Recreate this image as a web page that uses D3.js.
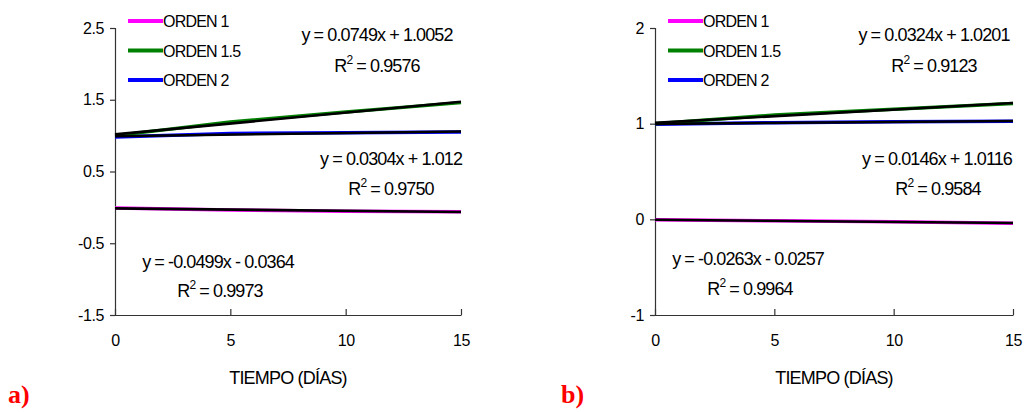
<!DOCTYPE html>
<html><head><meta charset="utf-8">
<script src="https://cdn.jsdelivr.net/npm/d3@7"></script>
<style>body{margin:0;background:#fff}svg{display:block}</style>
</head><body>
<svg id="c" width="1027" height="412"></svg>
<script>
// ---- data ----
const days = [0, 5, 10, 15];
const seriesNames = ["ORDEN 1", "ORDEN 1.5", "ORDEN 2"];
const seriesColors = ["#ff00ff", "#008000", "#0000ff"];
// panel a
const aOrden1 = [-0.01, -0.035, -0.055, -0.06];
const aOrden15 = [1.0, 1.19, 1.33, 1.46];
const aOrden2 = [0.98, 1.03, 1.04, 1.05];
const aYTicks = [-1.5, -0.5, 0.5, 1.5, 2.5];
const aEq = ["y = -0.0499x - 0.0364", "y = 0.0749x + 1.0052", "y = 0.0304x + 1.012"];
const aR2 = ["0.9973", "0.9576", "0.9750"];
// panel b
const bOrden1 = [-0.005, -0.015, -0.025, -0.04];
const bOrden15 = [1.0, 1.09, 1.15, 1.21];
const bOrden2 = [0.995, 1.01, 1.02, 1.025];
const bYTicks = [-1, 0, 1, 2];
const bEq = ["y = -0.0263x - 0.0257", "y = 0.0324x + 1.0201", "y = 0.0146x + 1.0116"];
const bR2 = ["0.9964", "0.9123", "0.9584"];
const xTicks = [0, 5, 10, 15];
const xTitle = "TIEMPO (DÍAS)";

const svg = d3.select("#c");
const font = "'Liberation Sans', Arial, sans-serif";

function fit(xs, ys) {
  const mx = d3.mean(xs), my = d3.mean(ys);
  let sxy = 0, sxx = 0;
  xs.forEach((x, i) => { sxy += (x - mx) * (ys[i] - my); sxx += (x - mx) * (x - mx); });
  const m = sxy / sxx; return [m, my - m * mx];
}

function panel(cfg) {
  const g = svg.append("g");
  const x = d3.scaleLinear().domain([0, 15]).range([cfg.x0, cfg.x1]);
  const y = d3.scaleLinear().domain(cfg.yDomain).range([315, 28]);

  // axes
  const ya = g.append("g").attr("transform", `translate(${cfg.x0},0)`)
    .call(d3.axisLeft(y).tickValues(cfg.yTicks).tickSize(5).tickPadding(6).tickFormat(d => String(d)));
  const xa = g.append("g").attr("transform", `translate(0,315)`)
    .call(d3.axisBottom(x).tickValues(xTicks).tickSizeInner(-6).tickSizeOuter(0).tickPadding(20));
  [ya, xa].forEach(a => {
    a.select(".domain").attr("stroke", "#333").attr("stroke-width", 1.2);
    a.selectAll(".tick line").attr("stroke", "#333").attr("stroke-width", 1.2);
    a.selectAll("text").attr("font-family", font).attr("font-size", 16).attr("fill", "#000")
      .attr("letter-spacing", "-0.4px");
  });
  xa.selectAll("text").attr("dy", "0.71em");

  const line = d3.line().x((d, i) => x(days[i])).y(d => y(d));
  const lineOrder = [0, 2, 1];
  lineOrder.forEach(k => {
    g.append("path").datum(cfg.series[k]).attr("d", line)
      .attr("fill", "none").attr("stroke", seriesColors[k]).attr("stroke-width", 3.5);
  });
  lineOrder.forEach(k => {
    const [m, b] = fit(days, cfg.series[k]);
    g.append("line").attr("x1", x(0)).attr("y1", y(b)).attr("x2", x(15)).attr("y2", y(m * 15 + b))
      .attr("stroke", "#000").attr("stroke-width", 2.6);
  });

  // legend
  seriesNames.forEach((n, i) => {
    const ly = 21 + i * 29.5;
    g.append("line").attr("x1", cfg.x0 + 13).attr("x2", cfg.x0 + 48).attr("y1", ly).attr("y2", ly)
      .attr("stroke", seriesColors[i]).attr("stroke-width", 4);
    g.append("text").attr("x", cfg.x0 + 48).attr("y", ly + 6).text(n)
      .attr("font-family", font).attr("font-size", 16).attr("letter-spacing", "-0.8px");
  });

  // equations
  cfg.eqPos.forEach((p, i) => {
    g.append("text").attr("x", p[0]).attr("y", p[1]).attr("text-anchor", "middle")
      .attr("font-family", font).attr("font-size", 18).attr("letter-spacing", "-0.9px")
      .text(cfg.eq[i]);
    const t = g.append("text").attr("x", p[2]).attr("y", p[3]).attr("text-anchor", "middle")
      .attr("font-family", font).attr("font-size", 18).attr("letter-spacing", "-0.9px");
    t.append("tspan").text("R");
    t.append("tspan").attr("dy", -8).attr("font-size", 12).text("2");
    t.append("tspan").attr("dy", 8).text(" = " + cfg.r2[i]);
  });

  g.append("text").attr("x", (cfg.x0 + cfg.x1) / 2).attr("y", 384).attr("text-anchor", "middle")
    .attr("font-family", font).attr("font-size", 18).attr("letter-spacing", "-0.8px").text(xTitle);
  g.append("text").attr("x", cfg.lx).attr("y", 403).attr("font-family", "'Liberation Serif', 'Times New Roman', serif")
    .attr("font-weight", "bold").attr("font-size", 26).attr("fill", "#ff0000").text(cfg.label);
}

panel({
  x0: 115, x1: 461, yDomain: [-1.5, 2.5], yTicks: aYTicks,
  series: [aOrden1, aOrden15, aOrden2], eq: aEq, r2: aR2,
  eqPos: [[218, 268, 220, 297], [377, 41, 377, 72], [391, 165, 391, 195]],
  label: "a)", lx: 8
});
panel({
  x0: 655, x1: 1013, yDomain: [-1, 2], yTicks: bYTicks,
  series: [bOrden1, bOrden15, bOrden2], eq: bEq, r2: bR2,
  eqPos: [[748, 265, 750, 295], [934, 41, 934, 72], [937, 165, 938, 195]],
  label: "b)", lx: 561
});
</script>
</body></html>
